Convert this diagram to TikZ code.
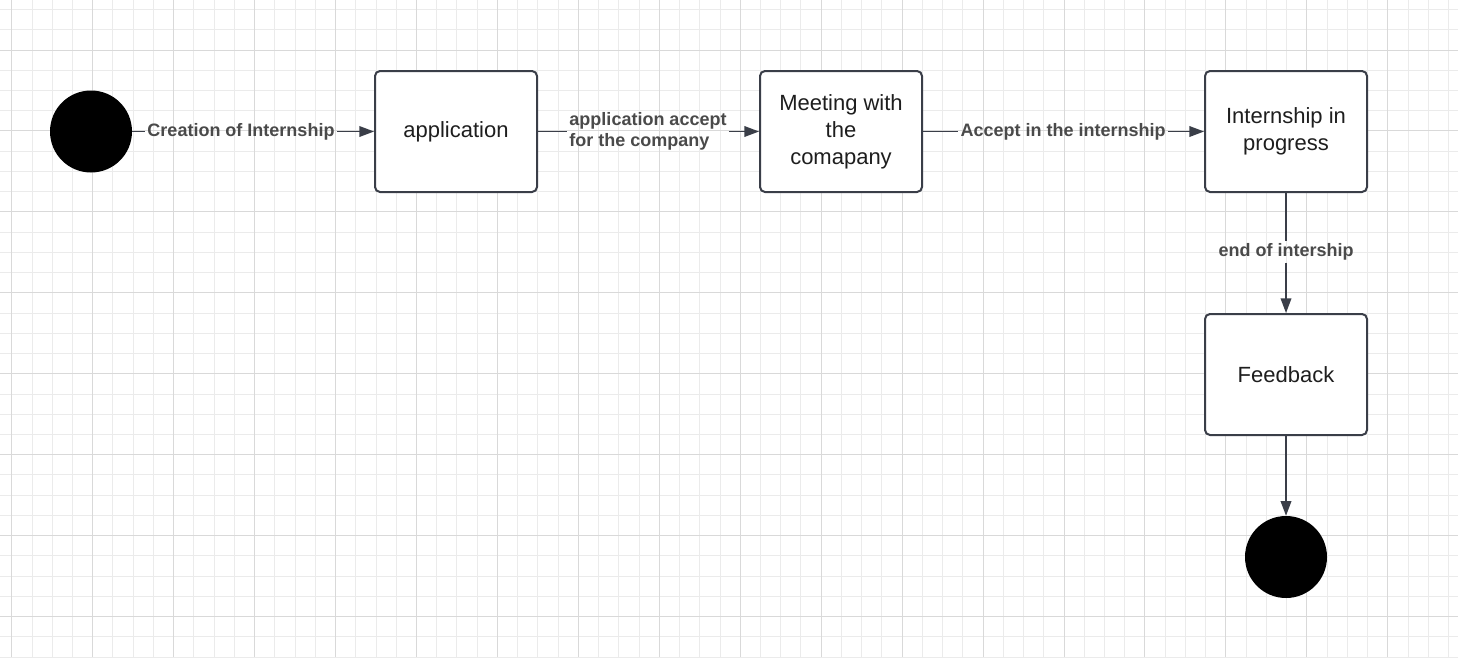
\documentclass[tikz,border=0pt]{standalone}
\usepackage{fontspec}
\setmainfont{Liberation Sans}
\usetikzlibrary{arrows.meta}
\definecolor{gridminor}{HTML}{EBEBEB}
\definecolor{gridmajor}{HTML}{D9D9D9}
\definecolor{edgecol}{HTML}{3A3E48}
\definecolor{labelcol}{HTML}{4A4A4A}
\definecolor{textcol}{HTML}{1E1E1E}

\begin{document}
\begin{tikzpicture}[x=0.75pt,y=-0.75pt,
 state/.style={draw=edgecol,line width=1.5pt,rounded corners=3.75pt,fill=white,
   minimum width=121.5pt,minimum height=90.75pt,align=center,text=textcol,
   font=\fontsize{16.5}{20.25}\selectfont},
 dot/.style={circle,fill=black,minimum size=61.5pt,inner sep=0pt},
 lbl/.style={inner sep=1.5pt,text=labelcol,font=\fontsize{13.5}{15.75}\selectfont\bfseries},
 link/.style={draw=edgecol,line width=1.1pt},
 arr/.style={link,-{Triangle[length=11pt,width=8pt]}}]
 \useasboundingbox (0,0) rectangle (1458,657);
 \fill[white](0,0) rectangle (1458,657);
 % grid
 \foreach \i in {0,...,71} \draw[gridminor,line width=0.7pt]({11.76+20.235*\i},0)--++(0,657);
 \foreach \j in {0,...,32} \draw[gridminor,line width=0.7pt](0,{9.5+20.235*\j})--++(1458,0);
 \foreach \i in {0,...,17} \draw[gridmajor,line width=0.7pt]({11.76+80.94*\i},0)--++(0,657);
 \foreach \j in {0,...,7} \draw[gridmajor,line width=0.7pt](0,{50+80.94*\j})--++(1458,0);
 % states
 \node[dot] (start) at (91,131.5) {};
 \node[state] (app) at (456,131.5) {application};
 \node[state] (meet) at (841,131.5) {Meeting with\\the\\comapany};
 \node[state] (prog) at (1286,131.5) {Internship in\\progress};
 \node[state] (fb) at (1286,374.5) {Feedback};
 \node[dot] (stop) at (1286,557) {};
 % labels
 \node[lbl] (l1) at (241,131.5) {Creation of Internship};
 \node[lbl,align=left] (l2) at (648,131.5) {application accept\\for the company};
 \node[lbl] (l3) at (1063,131.5) {Accept in the internship};
 \node[lbl] (l4) at (1286,252) {end of intership};
 % transitions
 \draw[link](start)--(l1);
 \draw[arr](l1)--(app);
 \draw[link](app)--(l2);
 \draw[arr](l2)--(meet);
 \draw[link](meet)--(l3);
 \draw[arr](l3)--(prog);
 \draw[link](prog)--(l4);
 \draw[arr](l4)--(fb);
 \draw[arr](fb)--(stop);
\end{tikzpicture}
\end{document}
